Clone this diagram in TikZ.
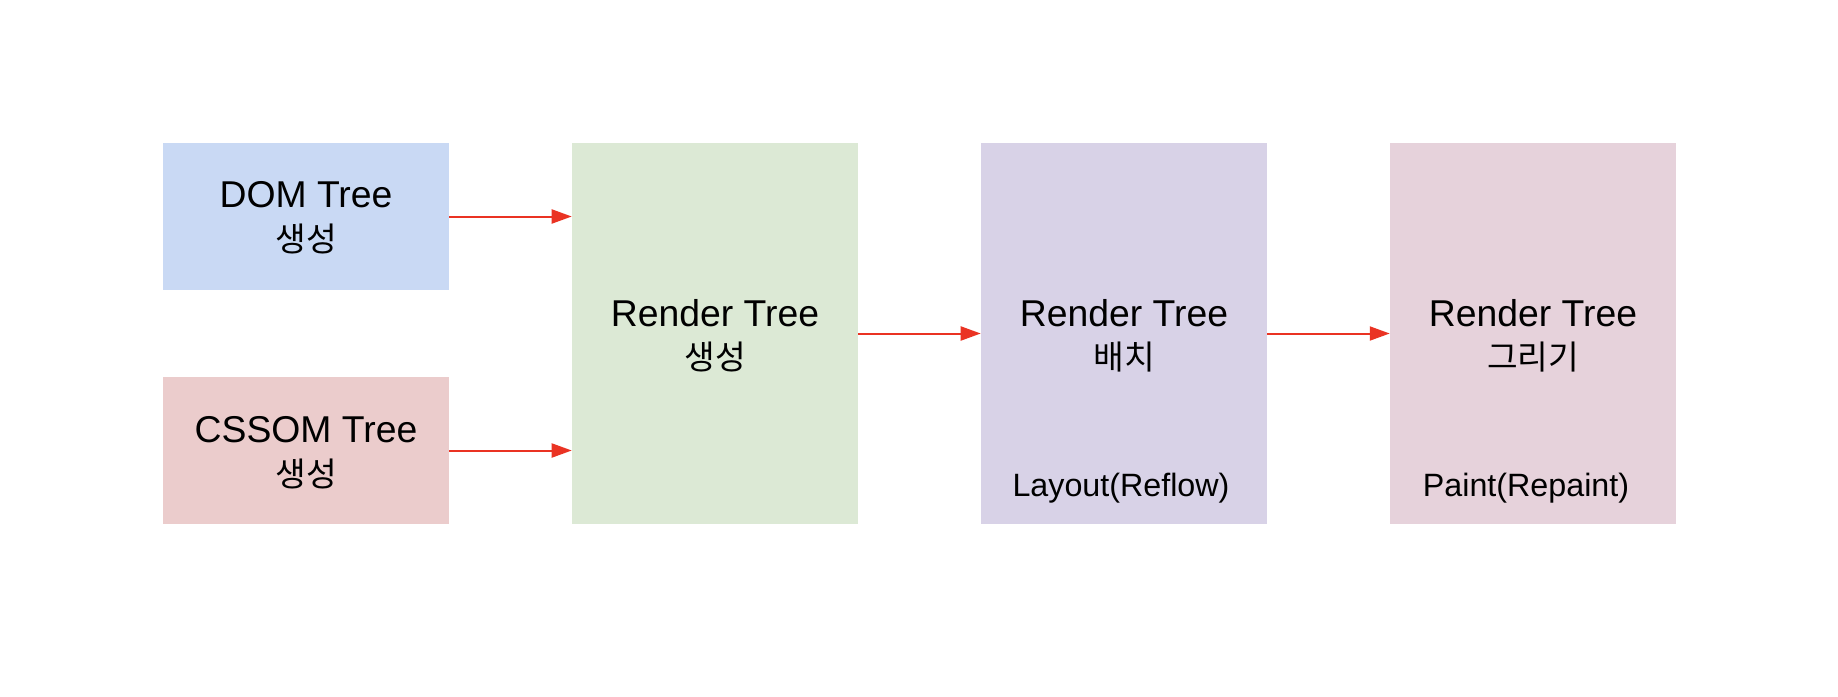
\documentclass[tikz,border=0pt]{standalone}
\usepackage{fontspec}
\setmainfont{Liberation Sans}
\newfontfamily\kr{Noto Sans CJK KR}
\usetikzlibrary{arrows.meta}
\definecolor{cblue}{HTML}{C9D9F4}
\definecolor{cred}{HTML}{EBCCCC}
\definecolor{cgreen}{HTML}{DCE9D5}
\definecolor{cpurple}{HTML}{D8D2E7}
\definecolor{cpink}{HTML}{E6D2DB}
\definecolor{carrow}{HTML}{EA3323}
\tikzset{
  box/.style={rectangle, draw=none, inner sep=0pt, minimum width=214.5pt},
  smallbox/.style={box, minimum height=110.25pt},
  tallbox/.style={box, minimum height=285.75pt},
  en/.style={anchor=base, inner sep=0pt, font=\fontsize{28pt}{33pt}\selectfont},
  ko/.style={anchor=base, inner sep=0pt, font=\kr\fontsize{25pt}{30pt}\selectfont},
  note/.style={anchor=base, inner sep=0pt, font=\fontsize{24.2pt}{29pt}\selectfont},
  flow/.style={draw=carrow, line width=1.5pt, -{Triangle[length=15pt,width=10.5pt]}}
}
\begin{document}
\begin{tikzpicture}[x=0.75pt,y=-0.75pt]
\useasboundingbox[fill=white] (0,0) rectangle (1838,696);
% boxes
\node[smallbox, fill=cblue] (dom) at (306,216.5) {};
\node[smallbox, fill=cred] (cssom) at (306,450.5) {};
\node[tallbox, fill=cgreen] (render) at (715,333.5) {};
\node[tallbox, fill=cpurple] (layout) at (1124,333.5) {};
\node[tallbox, fill=cpink] (paint) at (1533,333.5) {};
% texts
\node[en] (domt) at (306,207.5) {DOM Tree};
\node[ko] (domk) at (306,251.5) {생성};
\node[en] (cssomt) at (306,442) {CSSOM Tree};
\node[ko] (cssomk) at (306,486) {생성};
\node[en] (rendert) at (715,326) {Render Tree};
\node[ko] (renderk) at (715,369.5) {생성};
\node[en] (layoutt) at (1124,326) {Render Tree};
\node[ko] (layoutk) at (1124,369.5) {배치};
\node[en] (paintt) at (1533,326) {Render Tree};
\node[ko] (paintk) at (1533,369.5) {그리기};
\node[note] (layoutn) at (1121,496.7) {Layout(Reflow)};
\node[note] (paintn) at (1526,496.7) {Paint(Repaint)};
% connectors
\draw[flow] (dom.east) -- (dom.east -| render.west);
\draw[flow] (cssom.east) -- (cssom.east -| render.west);
\draw[flow] (render.east) -- (layout.west);
\draw[flow] (layout.east) -- (paint.west);
\end{tikzpicture}
\end{document}
